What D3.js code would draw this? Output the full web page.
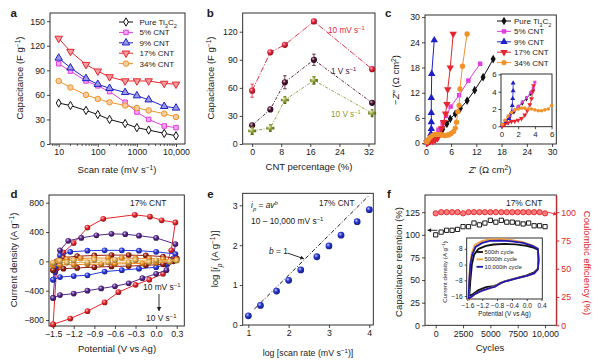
<!DOCTYPE html>
<html>
<head>
<meta charset="utf-8">
<script src="https://cdn.jsdelivr.net/npm/d3@7"></script>
<style>
  body { margin: 0; background: #fff; }
  svg { font-family: "Liberation Sans", Arial, sans-serif; }
</style>
</head>
<body>
<div id="chart"></div>
<script>
// ---- data: panel a (capacitance vs scan rate) ----
const scanRates = [10, 20, 50, 100, 200, 500, 1000, 2000, 5000, 10000];
const capPure = [50, 47, 41, 36, 30, 25, 20, 17, 13, 10];
const cap5 = [98, 89, 77, 71, 64, 51, 39, 30, 22, 20];
const cap9 = [105, 93, 80, 73, 68, 63, 59, 54, 46, 44];
const cap17 = [129, 113, 97, 89, 82, 77, 77, 77, 74, 73];
const cap34 = [77, 69, 60, 55, 51, 47, 44, 41, 37, 33];
const seriesNames = ["Pure Ti_{3}C_{2}", "5% CNT", "9% CNT", "17% CNT", "34% CNT"];

// ---- panel b (capacitance vs CNT %) ----
const cntPct = [0, 5, 9, 17, 33];
const cap10mV = [57, 98, 106, 131, 80];
const err10mV = [7, 0, 0, 0, 0];
const cap1V = [20, 37, 66, 90, 44];
const err1V = [0, 0, 7, 6, 0];
const cap10V = [14, 17, 47, 68, 33];
const err10V = [4, 0, 3, 4, 0];

// ---- panel c (Nyquist), [Z', -Z''] ----
const nyqPure = [[0.3,0.1],[1,0.6],[2,1.3],[3,2.2],[4,3.3],[5,4.6],[5.8,5.8],[7,7],[8.2,8.3],[9.8,10.1],[11.6,12.6],[13.6,15.7],[16,20]];
const nyq5 = [[0.3,0.2],[1,0.9],[2,2],[3,3.2],[4,4.8],[4.8,6.5],[5.9,8.7],[7.9,11.4],[10.1,14.9],[12.9,18.9]];
const nyq9 = [[0.2,0.2],[0.6,0.7],[1,1.3],[1.2,2.2],[1.3,3.4],[1.3,5],[1.3,7.2],[1.3,10.8],[1.4,16.5],[2.0,24.5]];
const nyq17 = [[0.2,0.1],[0.6,0.3],[1,0.5],[1.6,0.5],[2.2,0.7],[2.8,1.2],[3.3,2],[3.7,3.5],[4.2,5],[4.7,7],[5.0,9.3],[5.2,12.8],[5.8,18],[6.5,26]];
const nyq34 = [[0.2,0.3],[0.6,0.9],[1,1.4],[1.5,1.8],[2,2],[2.5,2.1],[3,2.1],[3.5,2],[4,1.9],[4.5,1.8],[5,1.9],[5.5,2],[6,2.3],[6.6,2.8],[7,3.6],[7.3,5],[7.6,7.5],[7.9,9],[8.1,12.9],[8.7,18.3],[9.8,26]];
// inset (zoom of low-Z region)
const insPure = [[0.1,0.1],[0.5,0.5],[1,1.1],[1.5,1.7],[2,2.2],[2.5,2.7],[3,3.2],[3.5,3.8],[3.8,4.2]];
const ins5 = [[0.1,0.1],[0.5,0.6],[1,1.2],[1.5,1.8],[2,2.3],[2.5,2.8],[3,3.3],[3.5,3.9],[3.8,4.4],[4,5.1]];
const ins9 = [[0.1,0.1],[0.5,0.4],[0.9,0.9],[1.2,1.6],[1.3,2.4],[1.35,3.2],[1.4,4.1],[1.4,5]];
const ins17 = [[0.1,0.05],[0.4,0.2],[0.8,0.4],[1.2,0.55],[1.6,0.6],[2,0.7],[2.4,0.9],[2.8,1.3],[3.1,1.8],[3.4,2.5],[3.6,3.2],[3.75,4],[3.85,4.7]];
const ins34 = [[0.1,0.2],[0.4,0.7],[0.8,1.2],[1.2,1.6],[1.6,1.9],[2,2],[2.4,2.1],[2.8,2.1],[3.2,2],[3.6,2],[4,1.9],[4.4,1.8],[4.8,1.8],[5.2,1.9],[5.6,2],[6,2.4]];

// ---- panel d (CV loops, [V, A/g]) ----
const cv10V = [[-1.5,-860],[-1.45,-100],[-1.35,120],[-1.2,250],[-1.0,460],[-0.77,580],[-0.31,635],[-0.09,610],[0.08,560],[0.28,530],[0.22,150],[0.1,-170],[-0.1,-250],[-0.3,-320],[-0.55,-420],[-0.75,-560],[-1.0,-680],[-1.25,-780],[-1.5,-860]];
const cv5V = [[-1.5,-500],[-1.47,-150],[-1.4,150],[-1.28,280],[-1.09,320],[-0.87,355],[-0.65,375],[-0.45,370],[-0.25,350],[0,320],[0.28,235],[0.25,20],[0.15,-120],[0,-170],[-0.2,-230],[-0.4,-300],[-0.6,-340],[-0.8,-370],[-1.0,-400],[-1.2,-440],[-1.4,-460],[-1.5,-500]];
const cv2V = [[-1.5,-250],[-1.47,-80],[-1.4,80],[-1.25,130],[-1.0,145],[-0.75,150],[-0.5,150],[-0.25,145],[0,130],[0.28,100],[0.25,40],[0.15,-40],[0,-80],[-0.25,-100],[-0.5,-120],[-0.75,-140],[-1.0,-190],[-1.2,-200],[-1.4,-215],[-1.5,-250]];
const cv1V = [[-1.5,-120],[-1.45,0],[-1.35,50],[-1.15,70],[-0.9,80],[-0.65,85],[-0.4,85],[-0.15,80],[0.1,65],[0.3,40],[0.25,0],[0.1,-40],[-0.15,-55],[-0.4,-65],[-0.65,-70],[-0.9,-80],[-1.15,-90],[-1.35,-100],[-1.5,-120]];
const cv500 = [[-1.5,-60],[-1.42,10],[-1.3,30],[-1.1,40],[-0.9,45],[-0.7,45],[-0.5,45],[-0.3,42],[-0.1,38],[0.1,30],[0.3,20],[0.2,-5],[0,-20],[-0.2,-28],[-0.4,-32],[-0.6,-35],[-0.8,-38],[-1.0,-40],[-1.2,-45],[-1.4,-50],[-1.5,-60]];
const cv100 = [[-1.5,-20],[-1.4,5],[-1.2,15],[-0.9,18],[-0.6,18],[-0.3,16],[0,14],[0.3,10],[0.2,-3],[-0.1,-10],[-0.4,-12],[-0.7,-14],[-1.0,-15],[-1.3,-17],[-1.5,-20]];

// ---- panel e (log ip vs log scan rate) ----
const logRate = [1, 1.3, 1.7, 2, 2.3, 2.7, 3, 3.3, 3.7, 4];
const logIp = [0.23, 0.49, 0.85, 1.12, 1.38, 1.71, 1.98, 2.25, 2.59, 2.89];
const fitLine = [[1.15, 0.4], [4, 3.25]];

// ---- panel f (cycling) ----
const cycles = [0, 500, 1000, 1500, 2000, 2500, 3000, 3500, 4000, 4500, 5000, 5500, 6000, 6500, 7000, 7500, 8000, 8500, 9000, 9500, 10000];
const retention = [100, 103, 105, 105, 106, 109, 109, 113, 111, 113, 116, 114, 116, 114, 114, 113, 112, 113, 110, 110, 109];
const efficiency = [99, 100, 100, 100, 100, 99, 100, 100, 100, 100, 100, 100, 100, 100, 100, 100, 100, 100, 100, 100, 99];
const cyc500 = [[-1.55,-16],[-1.52,-8],[-1.48,0],[-1.42,5],[-1.3,8],[-1.1,9.5],[-0.9,10.2],[-0.6,10.5],[-0.3,10.3],[0,9.5],[0.2,8.5],[0.3,7.5],[0.32,3],[0.3,-2],[0.2,-4],[0,-5.5],[-0.3,-7],[-0.6,-8.5],[-0.75,-10],[-0.9,-11],[-1.1,-11.5],[-1.3,-13],[-1.45,-15],[-1.55,-16]];
const cyc5000 = [[-1.57,-18],[-1.55,-8],[-1.53,0],[-1.48,6],[-1.4,10],[-1.2,12],[-1.0,12.8],[-0.7,13],[-0.4,12.4],[-0.1,11.4],[0.15,9.8],[0.3,8.2],[0.32,2],[0.3,-2.5],[0.2,-4.5],[0,-5.8],[-0.3,-7.2],[-0.6,-8.6],[-0.72,-9.3],[-0.85,-11],[-1.0,-12],[-1.2,-13.2],[-1.4,-15],[-1.57,-18]];
const cyc10000 = [[-1.57,-17.5],[-1.55,-8],[-1.52,0],[-1.47,5],[-1.38,9],[-1.2,11],[-1.0,12],[-0.7,12.2],[-0.4,11.8],[-0.1,11],[0.15,9.5],[0.3,8],[0.32,2],[0.3,-2.5],[0.2,-4.5],[0,-5.8],[-0.3,-7.2],[-0.6,-8.7],[-0.72,-9.5],[-0.85,-11.2],[-1.0,-12],[-1.2,-13.2],[-1.4,-15],[-1.57,-17.5]];
const cycleNames = ["500th cycle", "5000th cycle", "10,000th cycle"];

const svg = d3.select("#chart").append("svg").attr("width", 600).attr("height", 361);
const defs = svg.append("defs");
const INK = "#1a1a1a";

// shaded "ball" markers
function gloss(id, c) {
  const g = defs.append("radialGradient").attr("id", id).attr("cx", "38%").attr("cy", "35%").attr("r", "65%");
  g.append("stop").attr("offset", "0%").attr("stop-color", d3.interpolateRgb(c, "#fff")(0.75));
  g.append("stop").attr("offset", "45%").attr("stop-color", c);
  g.append("stop").attr("offset", "100%").attr("stop-color", d3.color(c).darker(1.3));
  return `url(#${id})`;
}

// text with ^{sup}, _{sub}, ^i{italic sup}, _i{italic sub}, *{italic}
function rich(sel, str) {
  str.split(/(\^i?\{[^}]*\}|_i?\{[^}]*\}|\*\{[^}]*\})/).filter(Boolean).forEach(p => {
    const t = sel.append("tspan");
    const m = p.match(/^([\^_*])(i?)\{([^}]*)\}$/);
    if (!m) { t.text(p); return; }
    t.text(m[3]);
    if (m[1] === "*" || m[2] === "i") t.attr("font-style", "italic");
    if (m[1] === "^") t.attr("font-size", "70%").attr("baseline-shift", "super");
    if (m[1] === "_") t.attr("font-size", "70%").attr("baseline-shift", "sub");
  });
  return sel;
}
function label(x, y, str, o = {}) {
  const t = svg.append("text").attr("x", x).attr("y", y)
    .attr("font-size", o.fs || 9.5).attr("fill", o.color || INK)
    .attr("text-anchor", o.anchor || "start");
  if (o.bold) t.attr("font-weight", "bold");
  return rich(t, str);
}
function vlabel(x, y, str, o = {}) {
  const t = svg.append("text").attr("transform", `translate(${x},${y}) rotate(${o.rot || -90})`)
    .attr("font-size", o.fs || 9.5).attr("fill", o.color || INK)
    .attr("text-anchor", "middle").attr("dy", "0.35em");
  return rich(t, str);
}

function axesBox(x, y, o) {
  const [x0, x1] = x.range(), [y0, y1] = y.range();
  const fs = o.fs || 8.8;
  const ax = svg.append("g").attr("transform", `translate(0,${y0})`)
    .call(d3.axisBottom(x).tickValues(o.xt).tickFormat(o.xf || d3.format("")).tickSize(o.ts || 3).tickPadding(2).tickSizeOuter(0));
  const ay = svg.append("g").attr("transform", `translate(${x0},0)`)
    .call(d3.axisLeft(y).tickValues(o.yt).tickFormat(o.yf || d3.format("")).tickSize(o.ts || 3).tickPadding(2).tickSizeOuter(0));
  [ax, ay].forEach(a => {
    a.attr("font-family", null).attr("font-size", null);
    a.select(".domain").remove();
    a.selectAll("text").attr("font-size", fs).attr("fill", INK);
    a.selectAll("line").attr("stroke", INK).attr("stroke-width", 0.8);
  });
  svg.append("rect").attr("x", x0).attr("y", y1).attr("width", x1 - x0).attr("height", y0 - y1)
    .attr("fill", o.bg || "none").attr("stroke", INK).attr("stroke-width", 0.9);
  return { ax, ay };
}

const SYM = {
  diamond: { type: d3.symbolDiamond }, square: { type: d3.symbolSquare },
  up: { type: d3.symbolTriangle }, down: { type: d3.symbolTriangle, rot: true },
  circle: { type: d3.symbolCircle }, cross: { type: d3.symbolCross }
};
function drawSeries(x, y, pts, o) {
  const g = svg.append("g");
  if (o.line !== false) {
    g.append("path").datum(pts).attr("d", d3.line().x(d => x(d[0])).y(d => y(d[1])))
      .attr("fill", "none").attr("stroke", o.color).attr("stroke-width", o.lw || 1)
      .attr("stroke-dasharray", o.dash || null);
  }
  if (o.sym) {
    g.selectAll("path.m").data(o.markPts || pts).join("path").attr("class", "m")
      .attr("d", d3.symbol(o.sym.type, o.size || 30))
      .attr("transform", d => `translate(${x(d[0])},${y(d[1])})${o.sym.rot ? " rotate(180)" : ""}`)
      .attr("fill", o.fill || o.color).attr("stroke", o.stroke || o.color).attr("stroke-width", o.sw == null ? 0.8 : o.sw);
  }
  return g;
}
function arrow(x1, y1, x2, y2, color, head = 3) {
  const ang = Math.atan2(y2 - y1, x2 - x1);
  svg.append("line").attr("x1", x1).attr("y1", y1).attr("x2", x2).attr("y2", y2)
    .attr("stroke", color).attr("stroke-width", 0.9);
  const p = [[x2, y2],
    [x2 - head * 1.8 * Math.cos(ang) + head * Math.sin(ang), y2 - head * 1.8 * Math.sin(ang) - head * Math.cos(ang)],
    [x2 - head * 1.8 * Math.cos(ang) - head * Math.sin(ang), y2 - head * 1.8 * Math.sin(ang) + head * Math.cos(ang)]];
  svg.append("path").attr("d", "M" + p.join("L") + "Z").attr("fill", color);
}

const colorsAC = ["#111111", "#e03ee0", "#1f1fc8", "#e6262e", "#f0922a"];
const symsAC = [SYM.diamond, SYM.square, SYM.up, SYM.down, SYM.circle];
const sizeA = [20, 20, 24, 24, 24];

// ================= panel a =================
{
  const x = d3.scaleLog().domain([6, 17000]).range([50, 185]);
  const y = d3.scaleLinear().domain([0, 160]).range([144, 13]);
  axesBox(x, y, { xt: [10, 100, 1000, 10000], xf: d => d === 10000 ? "10,000" : String(d), yt: d3.range(0, 151, 30) });
  const minor = [];
  [1, 10, 100, 1000].forEach(dec => d3.range(2, 10).forEach(k => { const v = dec * k; if (v > 6 && v < 17000 && v !== 10) minor.push(v); }));
  svg.append("g").selectAll("line").data(minor).join("line")
    .attr("x1", d => x(d)).attr("x2", d => x(d)).attr("y1", 144).attr("y2", 146)
    .attr("stroke", INK).attr("stroke-width", 0.7);
  [capPure, cap5, cap9, cap17, cap34].forEach((vals, i) => {
    const pts = scanRates.map((s, j) => [s, vals[j]]);
    drawSeries(x, y, pts, { color: colorsAC[i], sym: symsAC[i], size: sizeA[i],
      fill: d3.interpolateRgb(colorsAC[i], "#fff")(i === 0 ? 1 : 0.55), sw: 1 });
  });
  seriesNames.forEach((n, i) => {
    const ly = 22 + i * 10.4;
    const lx = d3.scaleLinear().domain([0, 1]).range([119, 133]);
    drawSeries(lx, d3.scaleIdentity(), [[0, ly], [1, ly]], { color: colorsAC[i],
      sym: symsAC[i], size: sizeA[i], markPts: [[0.5, ly]],
      fill: d3.interpolateRgb(colorsAC[i], "#fff")(i === 0 ? 1 : 0.55), sw: 1 });
    label(139.5, ly + 3, n, { fs: 8 });
  });
  label(10.5, 17, "a", { fs: 11.5, bold: true });
  vlabel(20, 78, "Capacitance (F g^{−1})");
  label(117, 173, "Scan rate (mV s^{−1})", { anchor: "middle" });
}

// ================= panel b =================
{
  const x = d3.scaleLinear().domain([-2.6, 33.8]).range([242.7, 375]);
  const y = d3.scaleLinear().domain([0, 140]).range([144, 13]);
  axesBox(x, y, { xt: [0, 8, 16, 24, 32], yt: [0, 30, 60, 90, 120] });
  const specs = [
    { vals: cap10mV, err: err10mV, color: "#e8203a", sym: SYM.circle, size: 30, dash: "6,1.5,1.2,1.5", id: "gb1" },
    { vals: cap1V, err: err1V, color: "#4a0f2e", sym: SYM.circle, size: 30, dash: "3,1.5,1,1.5", id: "gb2" },
    { vals: cap10V, err: err10V, color: "#8c9a2c", sym: SYM.cross, size: 36, dash: "3,1.5,1,1.5", id: "gb3" }
  ];
  specs.forEach(s => {
    const pts = cntPct.map((c, j) => [c, s.vals[j]]);
    const g = svg.append("g");
    g.selectAll("g").data(pts.map((p, j) => [p[0], p[1], s.err[j]]).filter(d => d[2] > 0)).join("g").each(function (d) {
      const e = d3.select(this);
      e.append("line").attr("x1", x(d[0])).attr("x2", x(d[0])).attr("y1", y(d[1] - d[2])).attr("y2", y(d[1] + d[2]));
      e.append("line").attr("x1", x(d[0]) - 1.8).attr("x2", x(d[0]) + 1.8).attr("y1", y(d[1] - d[2])).attr("y2", y(d[1] - d[2]));
      e.append("line").attr("x1", x(d[0]) - 1.8).attr("x2", x(d[0]) + 1.8).attr("y1", y(d[1] + d[2])).attr("y2", y(d[1] + d[2]));
      e.selectAll("line").attr("stroke", s.color).attr("stroke-width", 0.8);
    });
    drawSeries(x, y, pts, { color: s.color, sym: s.sym, size: s.size, dash: s.dash, lw: 0.9,
      fill: gloss(s.id, s.color), sw: 0 });
  });
  label(328, 33, "10 mV s^{−1}", { fs: 8.2, color: "#e8203a" });
  label(331, 74, "1 V s^{−1}", { fs: 8.2, color: "#4a0f2e" });
  label(331, 117, "10 V s^{−1}", { fs: 8.2, color: "#8c9a2c" });
  label(206.7, 17, "b", { fs: 11.5, bold: true });
  vlabel(211, 78, "Capacitance (F g^{−1})");
  label(309, 170, "CNT percentage (%)", { anchor: "middle" });
}

// ================= panel c =================
{
  const x = d3.scaleLinear().domain([-0.2, 31]).range([425, 556.3]);
  const y = d3.scaleLinear().domain([-0.2, 30.5]).range([144, 15]);
  axesBox(x, y, { xt: d3.range(0, 31, 6), yt: d3.range(0, 31, 6) });
  const main = [nyqPure, nyq5, nyq9, nyq17, nyq34];
  const sizes = [22, 20, 24, 24, 22];
  main.forEach((pts, i) => drawSeries(x, y, pts, { color: colorsAC[i], sym: symsAC[i], size: sizes[i], sw: 0, lw: 1 }));
  seriesNames.forEach((n, i) => {
    const ly = 21 + i * 10.4;
    const lx = d3.scaleLinear().domain([0, 1]).range([497, 511]);
    drawSeries(lx, d3.scaleIdentity(), [[0, ly], [1, ly]], { color: colorsAC[i], sym: symsAC[i], size: sizes[i], markPts: [[0.5, ly]], sw: 0 });
    label(514, ly + 3, n, { fs: 8 });
  });
  // inset
  const xi = d3.scaleLinear().domain([-0.05, 6.05]).range([501, 552]);
  const yi = d3.scaleLinear().domain([-0.05, 6.05]).range([126.7, 74]);
  axesBox(xi, yi, { xt: [0, 2, 4, 6], yt: [0, 2, 4, 6], fs: 7.8, ts: 2.5, bg: "#fff" });
  [insPure, ins5, ins9, ins17, ins34].forEach((pts, i) =>
    drawSeries(xi, yi, pts, { color: colorsAC[i], sym: symsAC[i], size: sizes[i] * 0.45, sw: 0, lw: 0.8 }));
  label(385, 17, "c", { fs: 11.5, bold: true });
  vlabel(396, 80, "−*{Z}″ (Ω cm^{2})");
  label(490, 173, "*{Z}′ (Ω cm^{2})", { anchor: "middle" });
}

// ================= panel d =================
{
  const x = d3.scaleLinear().domain([-1.56, 0.41]).range([49, 184.3]);
  const y = d3.scaleLinear().domain([-882, 905]).range([326, 195]);
  axesBox(x, y, { xt: [-1.5, -1.2, -0.9, -0.6, -0.3, 0, 0.3], xf: d3.format(".1f"), yt: [-800, -400, 0, 400, 800], yf: d3.format("d") });
  const loops = [
    { pts: cv10V, c: "#e8262a" }, { pts: cv5V, c: "#55268a" }, { pts: cv2V, c: "#2a38e0" },
    { pts: cv1V, c: "#9a1f12" }, { pts: cv500, c: "#ee8a1e" }, { pts: cv100, c: "#e8b050" }
  ];
  loops.forEach((l, i) => drawSeries(x, y, l.pts, { color: l.c, lw: 1, sym: SYM.circle, size: 26,
    fill: gloss("gd" + i, l.c), sw: 0 }));
  label(130, 206, "17% CNT", { fs: 8.4 });
  label(143, 290, "10 mV s^{−1}", { fs: 8.4 });
  arrow(159, 294, 159, 311, INK, 2.2);
  label(146, 321, "10 V s^{−1}", { fs: 8.4 });
  label(10.5, 197.5, "d", { fs: 11.5, bold: true });
  vlabel(14, 260, "Current density (A g^{−1})");
  label(117, 352, "Potential (V vs Ag)", { anchor: "middle" });
}

// ================= panel e =================
{
  const x = d3.scaleLinear().domain([0.86, 4.1]).range([242.7, 373.3]);
  const y = d3.scaleLinear().domain([0, 3.3]).range([325, 193.3]);
  axesBox(x, y, { xt: [1, 2, 3, 4], yt: [0, 1, 2, 3] });
  drawSeries(x, y, fitLine, { color: INK, lw: 1, dash: "4,2,1,2" });
  drawSeries(x, y, logRate.map((r, j) => [r, logIp[j]]), { color: "#2030c8", line: false, sym: SYM.circle, size: 36,
    fill: gloss("ge", "#2634d0"), sw: 0 });
  label(251, 208, "*{i}_i{p} = *{av}^i{b}", { fs: 8.4 });
  label(251, 224, "10 – 10,000 mV s^{−1}", { fs: 8.4 });
  label(319, 206, "17% CNT", { fs: 8.2 });
  label(269, 254, "*{b} = 1", { fs: 8.4 });
  arrow(x(1.98), y(1.8), x(2.38), y(1.66), INK, 2);
  label(207.3, 197.5, "e", { fs: 11.5, bold: true });
  vlabel(215, 259, "log [*{i}_i{p} (A g^{−1})]");
  label(308, 356, "log [scan rate (mV s^{−1})]", { anchor: "middle", fs: 8.8 });
}

// ================= panel f =================
{
  const RED = "#e0262c";
  const x = d3.scaleLinear().domain([-980, 11030]).range([425, 556.3]);
  const y = d3.scaleLinear().domain([0, 144]).range([325.3, 195]);
  const y2 = d3.scaleLinear().domain([0, 115.2]).range([325.3, 195]);
  axesBox(x, y, { xt: [0, 2500, 5000, 7500, 10000], xf: d => d === 10000 ? "10,000" : String(d), yt: [0, 25, 50, 75, 100, 125] });
  const ar = svg.append("g").attr("transform", "translate(556.3,0)")
    .call(d3.axisRight(y2).tickValues([0, 25, 50, 75, 100]).tickSize(3).tickPadding(2).tickSizeOuter(0));
  ar.attr("font-family", null).attr("font-size", null);
  ar.select(".domain").attr("stroke", RED).attr("stroke-width", 1);
  ar.selectAll("line").attr("stroke", RED);
  ar.selectAll("text").attr("fill", RED).attr("font-size", 8.8);
  drawSeries(x, y2, cycles.map((c, j) => [c, efficiency[j]]), { color: RED, line: false, sym: SYM.circle, size: 22,
    fill: "#ff7a7a", stroke: RED, sw: 0.9 });
  drawSeries(x, y, cycles.map((c, j) => [c, retention[j]]), { color: INK, line: false, sym: SYM.square, size: 18,
    fill: "#fff", sw: 1 });
  arrow(x(150), y(105), x(-750), y(105), INK, 2);
  arrow(x(10250), y2(100), x(11100), y2(98), RED, 2);
  label(506, 206, "17% CNT", { fs: 8.4 });
  // inset
  const xi = d3.scaleLinear().domain([-1.62, 0.42]).range([466.7, 542.3]);
  const yi = d3.scaleLinear().domain([-17.5, 13.5]).range([299, 238]);
  axesBox(xi, yi, { xt: [-1.6, -1.2, -0.8, -0.4, 0, 0.4], xf: d3.format(".1f"), yt: [-16, -8, 0, 8], yf: d3.format("d"), fs: 6.6, ts: 2, bg: "#fff" });
  const cycColors = ["#111111", "#f0a040", "#2018b0"];
  [cyc500, cyc5000, cyc10000].forEach((pts, i) => drawSeries(xi, yi, pts, { color: cycColors[i], lw: 1.8 }));
  cycleNames.forEach((n, i) => {
    const ly = 252 + i * 7.4;
    svg.append("line").attr("x1", 476.5).attr("x2", 483).attr("y1", ly).attr("y2", ly)
      .attr("stroke", cycColors[i]).attr("stroke-width", 1.8);
    label(484.5, ly + 2, n, { fs: 5.8 });
  });
  vlabel(444.5, 272, "Current density (A g^{−1})", { fs: 6.2 });
  label(504.5, 315.5, "Potential (V vs Ag)", { anchor: "middle", fs: 6.4 });
  label(387, 197.5, "f", { fs: 11.5, bold: true });
  vlabel(399, 262, "Capacitance retention (%)");
  vlabel(587, 263, "Coulombic efficiency (%)", { rot: 90, color: RED });
  label(490, 351, "Cycles", { anchor: "middle" });
}
</script>
</body>
</html>
